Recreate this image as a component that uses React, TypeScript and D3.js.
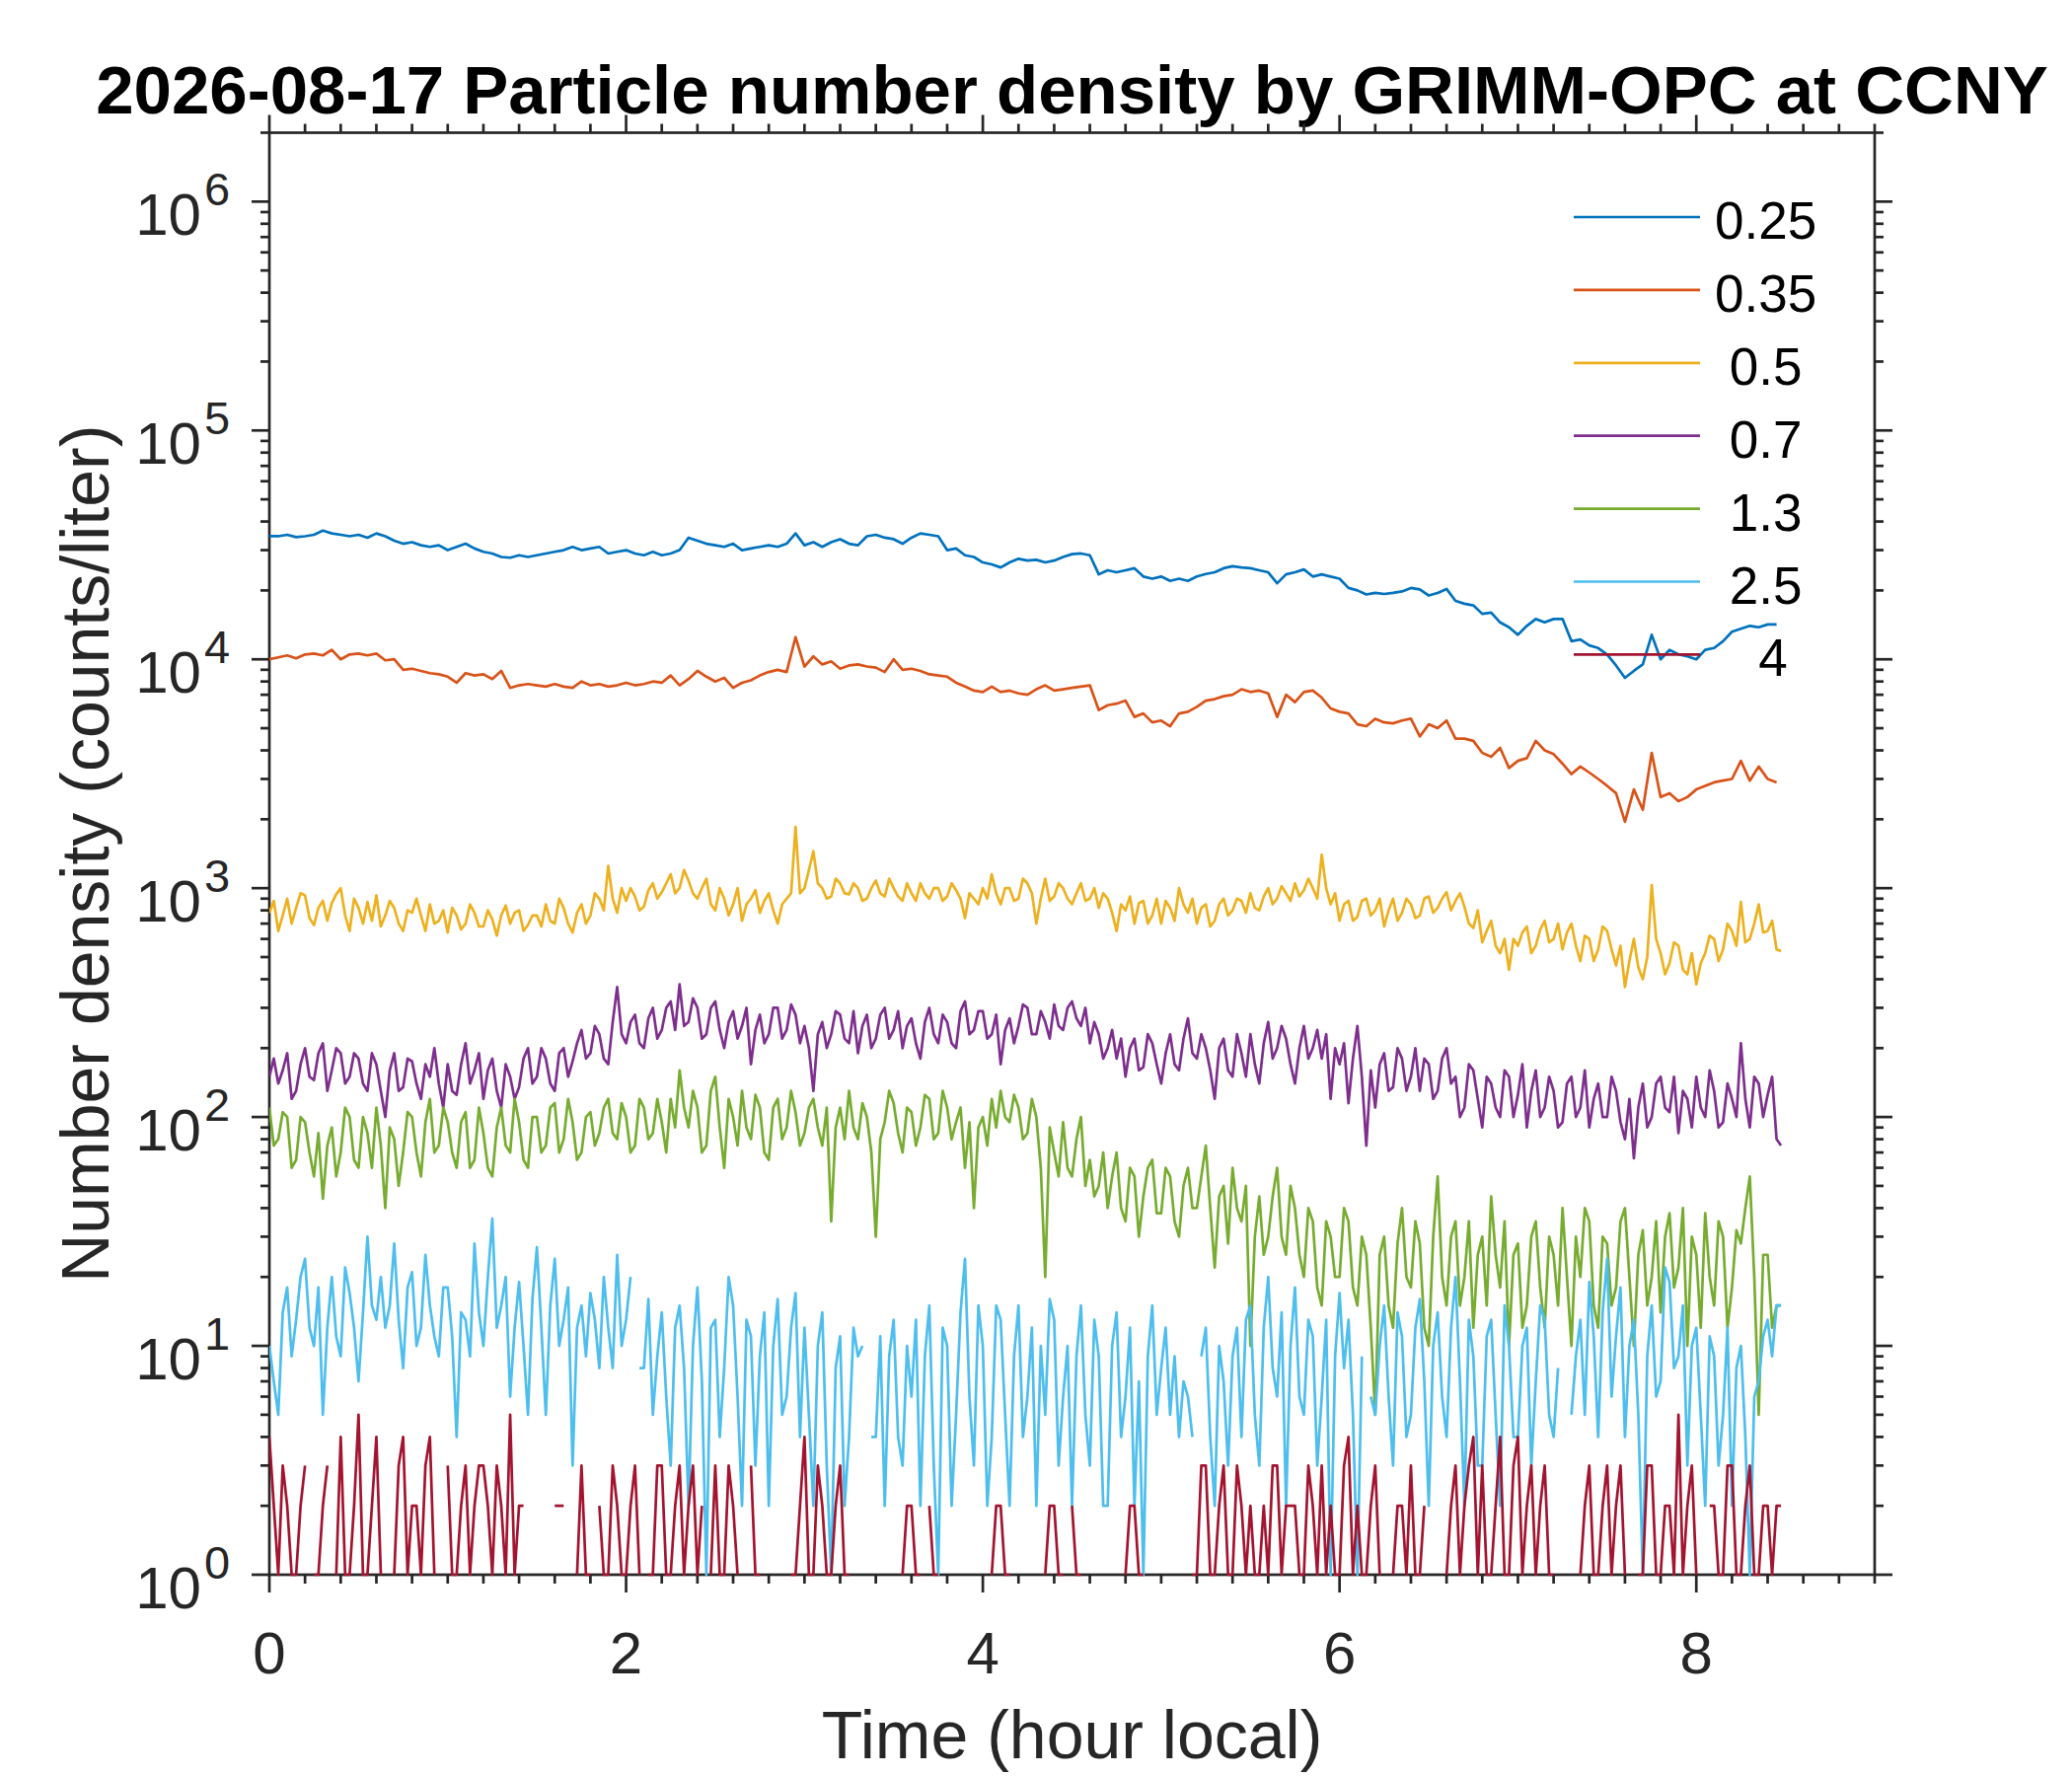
import React, {useEffect} from 'react'
import * as d3 from 'd3'

// legend labels (padded like num2str does) and MATLAB default line colours
const sizeLabels = ['0.25', '0.35', ' 0.5', ' 0.7', ' 1.3', ' 2.5', '   4']
const lineColors = ['#0072BD', '#D95319', '#EDB120', '#7E2F8E', '#77AC30', '#4DBEEE', '#A2142F']

// sample times (hours): smooth bins read every 3 min, noisy bins every 1.5 min
const hoursCoarse = d3.range(170).map((i) => i * 0.05)
const hoursFine = d3.range(340).map((i) => i * 0.025)

// counts/liter per size bin, one row = half an hour
const n025 = [
  3.45e4, 3.45e4, 3.5e4, 3.42e4, 3.45e4, 3.5e4, 3.65e4, 3.55e4, 3.5e4, 3.45e4,
  3.5e4, 3.4e4, 3.55e4, 3.45e4, 3.3e4, 3.2e4, 3.25e4, 3.15e4, 3.1e4, 3.15e4,
  3.0e4, 3.1e4, 3.2e4, 3.05e4, 2.95e4, 2.9e4, 2.8e4, 2.78e4, 2.85e4, 2.8e4,
  2.85e4, 2.9e4, 2.95e4, 3.0e4, 3.1e4, 3.0e4, 3.05e4, 3.1e4, 2.9e4, 2.95e4,
  3.0e4, 2.9e4, 2.85e4, 2.95e4, 2.85e4, 2.9e4, 3.0e4, 3.4e4, 3.3e4, 3.2e4,
  3.15e4, 3.1e4, 3.2e4, 3.0e4, 3.05e4, 3.1e4, 3.15e4, 3.1e4, 3.2e4, 3.55e4,
  3.15e4, 3.25e4, 3.1e4, 3.25e4, 3.35e4, 3.2e4, 3.15e4, 3.45e4, 3.5e4, 3.4e4,
  3.35e4, 3.2e4, 3.4e4, 3.55e4, 3.5e4, 3.45e4, 3.0e4, 3.05e4, 2.85e4, 2.8e4,
  2.65e4, 2.6e4, 2.52e4, 2.65e4, 2.75e4, 2.7e4, 2.72e4, 2.65e4, 2.7e4, 2.8e4,
  2.88e4, 2.9e4, 2.85e4, 2.35e4, 2.45e4, 2.4e4, 2.45e4, 2.5e4, 2.3e4, 2.25e4,
  2.3e4, 2.2e4, 2.25e4, 2.2e4, 2.3e4, 2.36e4, 2.4e4, 2.5e4, 2.55e4, 2.52e4,
  2.5e4, 2.45e4, 2.4e4, 2.15e4, 2.35e4, 2.4e4, 2.47e4, 2.3e4, 2.35e4, 2.3e4,
  2.25e4, 2.05e4, 2.0e4, 1.92e4, 1.95e4, 1.93e4, 1.95e4, 1.98e4, 2.05e4, 2.02e4,
  1.9e4, 1.95e4, 2.03e4, 1.8e4, 1.75e4, 1.72e4, 1.58e4, 1.6e4, 1.45e4, 1.38e4,
  1.28e4, 1.4e4, 1.5e4, 1.45e4, 1.5e4, 1.5e4, 1.2e4, 1.22e4, 1.15e4, 1.12e4,
  1.05e4, 9.4e3, 8.3e3, 8.9e3, 9.5e3, 1.28e4, 1.0e4, 1.1e4, 1.05e4, 1.03e4,
  1.0e4, 1.1e4, 1.12e4, 1.2e4, 1.32e4, 1.36e4, 1.4e4, 1.38e4, 1.42e4, 1.42e4,
]
const n035 = [
  1.0e4, 1.02e4, 1.04e4, 1.01e4, 1.05e4, 1.06e4, 1.04e4, 1.1e4, 1.0e4, 1.05e4,
  1.06e4, 1.04e4, 1.06e4, 9.9e3, 1.0e4, 9.0e3, 9.1e3, 8.9e3, 8.7e3, 8.6e3,
  8.4e3, 7.9e3, 8.7e3, 8.5e3, 8.6e3, 8.2e3, 8.9e3, 7.5e3, 7.7e3, 7.8e3,
  7.7e3, 7.6e3, 7.8e3, 7.6e3, 7.5e3, 8.0e3, 7.7e3, 7.8e3, 7.6e3, 7.7e3,
  7.9e3, 7.7e3, 7.8e3, 8.0e3, 7.9e3, 8.5e3, 7.7e3, 8.2e3, 8.9e3, 8.4e3,
  8.0e3, 8.3e3, 7.5e3, 7.9e3, 8.1e3, 8.5e3, 8.8e3, 9.0e3, 8.8e3, 1.25e4,
  9.3e3, 1.03e4, 9.5e3, 9.8e3, 9.1e3, 9.4e3, 9.5e3, 9.3e3, 9.2e3, 8.8e3,
  1.0e4, 9.0e3, 9.1e3, 8.9e3, 8.6e3, 8.5e3, 8.4e3, 7.9e3, 7.6e3, 7.3e3,
  7.2e3, 7.6e3, 7.2e3, 7.3e3, 7.1e3, 7.0e3, 7.4e3, 7.7e3, 7.3e3, 7.4e3,
  7.5e3, 7.6e3, 7.7e3, 6.0e3, 6.3e3, 6.4e3, 6.6e3, 5.6e3, 5.8e3, 5.3e3,
  5.4e3, 5.1e3, 5.8e3, 5.9e3, 6.2e3, 6.6e3, 6.7e3, 6.9e3, 7.0e3, 7.4e3,
  7.2e3, 7.3e3, 7.1e3, 5.6e3, 7.0e3, 6.5e3, 7.2e3, 7.3e3, 6.8e3, 6.1e3,
  5.9e3, 5.8e3, 5.2e3, 5.1e3, 5.5e3, 5.3e3, 5.25e3, 5.4e3, 5.5e3, 4.6e3,
  5.2e3, 5.0e3, 5.4e3, 4.5e3, 4.5e3, 4.4e3, 3.9e3, 3.75e3, 4.1e3, 3.35e3,
  3.6e3, 3.7e3, 4.4e3, 4.0e3, 3.85e3, 3.5e3, 3.15e3, 3.4e3, 3.2e3, 3.0e3,
  2.8e3, 2.6e3, 1.95e3, 2.7e3, 2.2e3, 3.9e3, 2.5e3, 2.6e3, 2.4e3, 2.5e3,
  2.7e3, 2.8e3, 2.9e3, 2.95e3, 3.0e3, 3.6e3, 2.95e3, 3.4e3, 3.0e3, 2.9e3,
]
const n05 = [
  780, 880, 650, 760, 900, 700, 820, 950, 930, 740, 690, 820, 880, 720, 860, 940, 1000, 760, 650, 900,
  820, 700, 870, 720, 930, 680, 760, 880, 820, 700, 650, 800, 780, 900, 760, 650, 850, 700, 720, 800,
  640, 820, 760, 660, 700, 850, 780, 680, 680, 800, 730, 620, 760, 840, 700, 780, 800, 650, 690, 760,
  760, 680, 850, 720, 700, 900, 820, 700, 640, 780, 850, 700, 760, 950, 900, 800, 1250, 900, 780, 1000,
  880, 1000, 920, 800, 830, 980, 1050, 900, 960, 1050, 1150, 950, 1000, 1200, 1080, 950, 900, 1000, 1100, 850,
  800, 1000, 900, 760, 850, 1000, 720, 850, 900, 980, 780, 880, 950, 800, 700, 850, 900, 950, 1850, 950,
  1000, 1200, 1450, 1050, 1000, 900, 920, 1100, 1050, 950, 940, 1050, 1000, 880, 900, 1000, 1080, 950, 920, 1100,
  1000, 920, 880, 1050, 950, 880, 1050, 950, 900, 1000, 1000, 880, 920, 1050, 980, 900, 740, 950, 900, 850,
  1000, 900, 1150, 950, 850, 1000, 1000, 880, 900, 1100, 1050, 950, 700, 900, 1100, 880, 920, 1050, 1000, 900,
  850, 950, 1050, 880, 900, 1000, 820, 950, 900, 780, 650, 850, 800, 920, 700, 860, 880, 700, 760, 900,
  700, 880, 820, 720, 1000, 850, 780, 900, 700, 820, 850, 680, 720, 850, 900, 760, 800, 900, 880, 780,
  950, 820, 800, 920, 1000, 850, 900, 1020, 950, 880, 1050, 920, 980, 1100, 1000, 900, 1400, 1000, 850, 950,
  720, 850, 880, 720, 750, 880, 900, 760, 800, 900, 680, 800, 900, 720, 780, 900, 850, 740, 760, 900,
  920, 780, 820, 900, 960, 800, 880, 950, 830, 700, 670, 800, 580, 650, 720, 560, 520, 600, 440, 600,
  560, 640, 680, 520, 560, 660, 720, 580, 600, 700, 540, 640, 700, 560, 480, 620, 600, 480, 540, 680,
  650, 540, 460, 560, 370, 480, 600, 450, 400, 500, 1030, 600, 520, 420, 470, 580, 560, 440, 420, 520,
  380, 470, 520, 620, 600, 480, 540, 700, 650, 560, 870, 580, 600, 700, 850, 640, 650, 720, 540, 530,
]
const n07 = [
  150, 180, 140, 160, 190, 120, 130, 170, 200, 150, 145, 190, 210, 130, 160, 200, 190, 140, 150, 190,
  180, 140, 130, 190, 170, 130, 100, 160, 190, 130, 135, 180, 175, 140, 120, 170, 150, 200, 140, 110,
  170, 130, 125, 170, 210, 140, 160, 190, 120, 160, 180, 130, 110, 170, 150, 120, 135, 180, 200, 140,
  150, 200, 180, 140, 130, 190, 200, 150, 175, 210, 240, 180, 190, 250, 230, 180, 170, 260, 370, 230,
  210, 260, 280, 210, 200, 270, 300, 220, 240, 300, 320, 240, 380, 250, 260, 330, 300, 220, 230, 300,
  320, 240, 200, 260, 290, 220, 250, 300, 170, 240, 280, 210, 230, 300, 300, 220, 240, 310, 280, 210,
  250, 200, 130, 230, 260, 200, 230, 290, 280, 220, 210, 290, 190, 250, 280, 200, 220, 280, 300, 220,
  240, 290, 200, 250, 270, 210, 180, 260, 300, 230, 210, 280, 260, 210, 200, 290, 320, 230, 240, 290,
  290, 220, 230, 280, 170, 240, 270, 210, 250, 310, 300, 230, 230, 290, 260, 220, 310, 250, 240, 300,
  320, 270, 250, 300, 210, 260, 230, 180, 200, 240, 180, 220, 150, 200, 220, 160, 165, 230, 210, 170,
  140, 190, 230, 170, 160, 220, 270, 190, 180, 230, 200, 160, 120, 200, 220, 160, 150, 230, 190, 150,
  230, 170, 140, 210, 260, 180, 200, 250, 220, 170, 140, 200, 250, 180, 200, 240, 180, 230, 120, 200,
  170, 210, 115, 180, 250, 150, 75, 160, 110, 170, 190, 130, 135, 200, 180, 130, 150, 200, 130, 180,
  170, 120, 130, 180, 200, 140, 150, 100, 110, 170, 160, 120, 90, 150, 140, 110, 100, 160, 150, 100,
  125, 170, 90, 130, 160, 100, 110, 150, 130, 90, 95, 140, 150, 100, 110, 160, 90, 120, 140, 100,
  100, 150, 130, 95, 80, 120, 66, 110, 140, 90, 100, 140, 150, 110, 105, 150, 85, 130, 120, 90,
  150, 110, 100, 160, 130, 90, 95, 140, 120, 100, 210, 120, 90, 150, 140, 100, 125, 150, 80, 75,
]
const n13 = [
  110, 75, 80, 105, 100, 60, 65, 100, 95, 70, 55, 85, 44, 75, 90, 55, 70, 110, 100, 65,
  60, 100, 85, 60, 110, 75, 40, 90, 80, 50, 70, 105, 100, 70, 55, 95, 120, 70, 75, 110,
  95, 70, 60, 95, 105, 60, 65, 110, 85, 60, 55, 90, 110, 75, 70, 120, 95, 65, 60, 100,
  100, 70, 75, 110, 115, 70, 80, 120, 95, 65, 70, 100, 105, 75, 85, 110, 120, 85, 80, 115,
  100, 70, 75, 120, 110, 80, 85, 120, 95, 70, 120, 90, 160, 110, 90, 130, 110, 70, 75, 130,
  150, 90, 60, 120, 100, 75, 130, 90, 80, 125, 110, 70, 65, 110, 120, 80, 90, 130, 105, 75,
  85, 110, 120, 90, 75, 110, 35, 90, 110, 80, 130, 90, 80, 115, 100, 70, 30, 80, 95, 130,
  115, 85, 70, 110, 105, 75, 90, 125, 120, 80, 85, 130, 110, 80, 95, 110, 60, 95, 40, 90,
  100, 75, 120, 90, 130, 100, 95, 125, 110, 80, 85, 120, 100, 60, 20, 90, 70, 55, 95, 60,
  55, 80, 100, 50, 65, 45, 50, 70, 40, 55, 70, 40, 35, 60, 55, 30, 45, 60, 65, 38,
  38, 60, 55, 35, 30, 50, 60, 40, 40, 55, 75, 40, 22, 45, 50, 28, 60, 40, 35, 50,
  10, 30, 45, 25, 30, 45, 60, 30, 25, 50, 40, 25, 20, 40, 35, 18, 15, 35, 30, 20,
  20, 40, 35, 18, 15, 30, 25, 12, 5, 25, 30, 15, 12, 28, 40, 20, 18, 35, 28, 12,
  10, 30, 55, 20, 15, 30, 35, 15, 20, 35, 12, 25, 30, 15, 45, 25, 18, 35, 10, 25,
  28, 12, 15, 30, 35, 18, 12, 30, 25, 15, 40, 20, 10, 30, 20, 40, 35, 15, 12, 30,
  28, 15, 18, 35, 40, 20, 10, 25, 32, 15, 20, 35, 14, 30, 38, 18, 22, 40, 10, 30,
  25, 12, 38, 20, 15, 35, 30, 12, 18, 32, 28, 40, 55, 20, 5, 25, 25, 12, 15, 15,
]
const n25 = [
  10, 7, 5, 14, 18, 9, 13, 20, 24, 12, 10, 18, 5, 12, 20, 11, 9, 22, 17, 12,
  7, 14, 30, 15, 13, 20, 12, 15, 28, 13, 8, 18, 21, 10, 12, 25, 15, 11, 9, 18,
  18, 11, 4, 14, 13, 9, 28, 14, 10, 20, 36, 12, 15, 20, 6, 12, 19, 10, 5, 16,
  27, 12, 5, 15, 24, 10, 13, 18, 3, 12, 15, 9, 17, 13, 8, 20, 12, 8, 25, 10,
  13, 20, 0, 8, 8, 16, 5, 9, 14, 6, 3, 12, 15, 8, 2, 10, 18, 7, 1, 12,
  13, 4, 8, 20, 15, 6, 2, 13, 11, 3, 9, 14, 2, 10, 16, 5, 6, 12, 17, 4,
  12, 5, 2, 10, 14, 3, 1, 8, 11, 2, 4, 12, 9, 10, 0, 4, 4, 11, 2, 9,
  13, 4, 3, 10, 6, 13, 2, 9, 15, 3, 1, 12, 10, 2, 5, 14, 24, 6, 3, 15,
  10, 2, 4, 15, 13, 5, 2, 9, 15, 4, 6, 12, 2, 10, 5, 16, 13, 3, 6, 10,
  2, 9, 15, 5, 3, 13, 9, 2, 2, 10, 14, 4, 6, 12, 2, 7, 1, 9, 15, 5,
  8, 12, 5, 9, 4, 7, 6, 4, 0, 9, 12, 4, 2, 10, 7, 3, 9, 12, 4, 13,
  15, 5, 3, 12, 20, 8, 6, 14, 2, 10, 18, 6, 5, 13, 11, 3, 6, 13, 1, 9,
  17, 8, 13, 5, 1, 9, 0, 6, 5, 10, 15, 6, 3, 14, 11, 4, 5, 12, 16, 7,
  2, 10, 14, 6, 4, 12, 20, 7, 2, 13, 9, 3, 3, 11, 13, 5, 2, 15, 10, 4,
  4, 10, 12, 3, 7, 15, 13, 5, 4, 8, 0, 0, 5, 9, 13, 5, 19, 11, 4, 14,
  24, 6, 11, 18, 4, 10, 13, 5, 1, 9, 15, 6, 7, 22, 19, 8, 9, 15, 3, 10,
  12, 5, 2, 11, 9, 3, 5, 12, 2, 8, 10, 4, 1, 6, 7, 11, 13, 9, 15, 15,
]
const n4 = [
  4, 2, 1, 3, 2, 1, 1, 2, 3, 0, 1, 1, 2, 3, 0, 1, 4, 1, 1, 2,
  5, 1, 1, 2, 4, 1, 0, 0, 1, 3, 4, 1, 2, 2, 1, 3, 4, 1, 0, 0,
  3, 1, 1, 2, 3, 1, 2, 3, 3, 2, 1, 3, 2, 1, 5, 1, 2, 2, 0, 2,
  0, 0, 1, 0, 2, 2, 2, 0, 0, 1, 3, 1, 1, 0, 2, 1, 1, 3, 2, 1,
  1, 2, 3, 1, 0, 1, 1, 3, 3, 1, 1, 2, 3, 1, 2, 3, 1, 2, 0, 1,
  3, 1, 1, 3, 2, 1, 0, 0, 3, 1, 1, 0, 0, 0, 0, 0, 0, 1, 1, 2,
  4, 1, 1, 3, 2, 1, 1, 2, 3, 1, 1, 0, 0, 0, 0, 0, 0, 0, 0, 0,
  0, 0, 1, 2, 2, 1, 1, 0, 2, 1, 1, 0, 0, 0, 0, 0, 0, 0, 0, 0,
  0, 0, 1, 2, 2, 1, 1, 0, 0, 0, 0, 0, 0, 0, 1, 2, 2, 1, 1, 0,
  2, 1, 1, 0, 0, 0, 0, 0, 0, 0, 0, 0, 1, 2, 2, 1, 1, 0, 0, 0,
  0, 0, 0, 0, 0, 0, 0, 1, 1, 3, 3, 1, 1, 2, 3, 1, 1, 3, 2, 1,
  2, 1, 1, 2, 1, 3, 3, 1, 2, 2, 2, 1, 1, 3, 2, 1, 3, 1, 2, 1,
  1, 3, 4, 1, 2, 1, 1, 2, 3, 1, 0, 0, 1, 2, 2, 1, 3, 1, 1, 2,
  0, 0, 0, 0, 1, 2, 3, 1, 2, 3, 4, 1, 3, 1, 1, 2, 4, 1, 1, 3,
  4, 1, 2, 3, 1, 2, 3, 1, 1, 0, 0, 0, 0, 0, 1, 2, 3, 1, 1, 2,
  3, 1, 2, 3, 1, 0, 0, 1, 1, 3, 3, 1, 1, 2, 2, 1, 5, 1, 2, 3,
  1, 0, 0, 2, 2, 1, 1, 3, 3, 1, 1, 2, 3, 1, 1, 2, 2, 1, 2, 2,
]

const allSeries = [
  {values: n025, hours: hoursCoarse},
  {values: n035, hours: hoursCoarse},
  {values: n05, hours: hoursFine},
  {values: n07, hours: hoursFine},
  {values: n13, hours: hoursFine},
  {values: n25, hours: hoursFine},
  {values: n4, hours: hoursFine},
]

const xTicks = [0, 2, 4, 6, 8]
const yExponents = [0, 1, 2, 3, 4, 5, 6]

const title = '2026-08-17 Particle number density by GRIMM-OPC at CCNY'

export default function App() {
  useEffect(() => {
    document.body.style.margin = '0'
  }, [])

  const W = 2100
  const H = 1800
  const left = 273
  const right = 1900
  const top = 134.5
  const bottom = 1596

  const x = d3.scaleLinear().domain([0, 9]).range([left, right])
  const y = d3.scaleLog().domain([1, 2e6]).range([bottom, top])

  const axisColor = '#262626'
  const font = '"Liberation Sans", Arial, Helvetica, sans-serif'
  const major = 18
  const minor = 9

  const xMinor = d3
    .range(0, 46)
    .map((i) => Math.round(i * 2) / 10)
    .filter((v) => !xTicks.includes(v))
  const yMinor: number[] = []
  yExponents.forEach((k) => {
    for (let m = 2; m <= 9; m++) {
      const v = m * Math.pow(10, k)
      if (v <= 2e6) yMinor.push(v)
    }
  })

  const legendX0 = 1595
  const legendX1 = 1723
  const legendY0 = 220
  const legendStep = 73.9

  return (
    <svg width={W} height={H} style={{display: 'block', background: '#fff'}} fontFamily={font}>
      <defs>
        <clipPath id="plotClip">
          <rect x={left} y={top - 2} width={right - left} height={bottom - top + 4} />
        </clipPath>
      </defs>

      {/* title */}
      <text x={(left + right) / 2} y={115} textAnchor="middle" fontSize={69} fontWeight="bold" fill="#000">
        {title}
      </text>

      {/* box */}
      <rect x={left} y={top} width={right - left} height={bottom - top} fill="none" stroke={axisColor} strokeWidth={2.7} />

      {/* ticks point outward, mirrored on top and right */}
      <g stroke={axisColor} strokeWidth={2.7}>
        {xTicks.map((t) => (
          <g key={'xt' + t}>
            <line x1={x(t)} x2={x(t)} y1={bottom} y2={bottom + major} />
            <line x1={x(t)} x2={x(t)} y1={top} y2={top - major} />
          </g>
        ))}
        {xMinor.map((t) => (
          <g key={'xm' + t}>
            <line x1={x(t)} x2={x(t)} y1={bottom} y2={bottom + minor} />
            <line x1={x(t)} x2={x(t)} y1={top} y2={top - minor} />
          </g>
        ))}
        {yExponents.map((k) => (
          <g key={'yt' + k}>
            <line x1={left} x2={left - major} y1={y(Math.pow(10, k))} y2={y(Math.pow(10, k))} />
            <line x1={right} x2={right + major} y1={y(Math.pow(10, k))} y2={y(Math.pow(10, k))} />
          </g>
        ))}
        {yMinor.map((v) => (
          <g key={'ym' + v}>
            <line x1={left} x2={left - minor} y1={y(v)} y2={y(v)} />
            <line x1={right} x2={right + minor} y1={y(v)} y2={y(v)} />
          </g>
        ))}
      </g>

      {/* tick labels */}
      <g fill={axisColor}>
        {xTicks.map((t) => (
          <text key={'xl' + t} x={x(t)} y={1696} textAnchor="middle" fontSize={60}>
            {t}
          </text>
        ))}
        {yExponents.map((k) => (
          <g key={'yl' + k}>
            <text x={204} y={y(Math.pow(10, k)) + 34} textAnchor="end" fontSize={60}>
              10
            </text>
            <text x={207} y={y(Math.pow(10, k)) + 4} fontSize={47}>
              {k}
            </text>
          </g>
        ))}
      </g>

      {/* axis labels */}
      <text x={(left + right) / 2} y={1782} textAnchor="middle" fontSize={68} fill={axisColor}>
        Time (hour local)
      </text>
      <text
        transform={`translate(110, ${(top + bottom) / 2}) rotate(-90)`}
        textAnchor="middle"
        fontSize={68}
        fill={axisColor}>
        Number density (counts/liter)
      </text>

      {/* data; zero counts can't sit on a log axis so they leave gaps */}
      <g clipPath="url(#plotClip)" fill="none" strokeWidth={2.7} strokeLinejoin="round">
        {allSeries.map((s, i) => {
          const line = d3
            .line<number>()
            .defined((v) => v > 0)
            .x((_, j) => x(s.hours[j]))
            .y((v) => y(v))
          return <path key={'s' + i} d={line(s.values) || ''} stroke={lineColors[i]} />
        })}
      </g>

      {/* legend, no box */}
      <g>
        {sizeLabels.map((lab, i) => {
          const ly = legendY0 + i * legendStep
          return (
            <g key={'lg' + i}>
              <line x1={legendX0} x2={legendX1} y1={ly} y2={ly} stroke={lineColors[i]} strokeWidth={2.7} />
              <text
                x={1738}
                y={ly + 22}
                fontSize={53}
                fill="#000"
                xmlSpace="preserve"
                style={{whiteSpace: 'pre'}}>
                {lab}
              </text>
            </g>
          )
        })}
      </g>
    </svg>
  )
}
